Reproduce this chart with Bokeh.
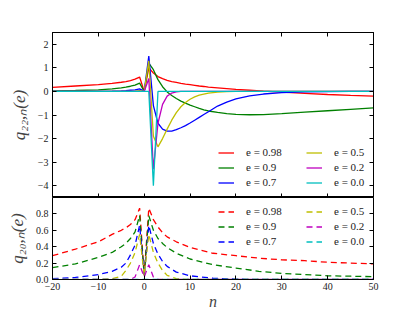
from bokeh.plotting import figure
from bokeh.layouts import column
from bokeh.models import LinearAxis, FixedTicker, Legend, LegendItem, Range1d
from bokeh.embed import file_html
from bokeh.resources import INLINE

# ---------------- data ----------------
labels = ["e = 0.98", "e = 0.9", "e = 0.7", "e = 0.5", "e = 0.2", "e = 0.0"]
colors = ["#FF0000", "#008000", "#0000FF", "#BFBF00", "#BF00BF", "#00BFBF"]

# top panel: q_{22,n}(e)
n_top = [-20, -15, -10, -7, -5, -4, -3, -2, -1, 0, 1, 2, 3, 4, 5, 6, 7, 8, 9, 10,
         11, 12, 13, 14, 16, 18, 20, 23, 26, 30, 35, 40, 45, 50]
q22_098 = [0.17, 0.23, 0.29, 0.34, 0.39, 0.42, 0.46, 0.52, 0.61, 0.0, 1.00, 0.78, 0.63, 0.54,
           0.47, 0.42, 0.38, 0.34, 0.31, 0.29, 0.26, 0.23, 0.21, 0.18, 0.15, 0.12, 0.09, 0.05,
           0.01, -0.03, -0.08, -0.13, -0.17, -0.20]
q22_090 = [0.02, 0.04, 0.07, 0.11, 0.15, 0.18, 0.22, 0.27, 0.35, 0.0, 1.20, 0.92, 0.50, 0.20,
           -0.02, -0.17, -0.30, -0.41, -0.50, -0.58, -0.65, -0.72, -0.78, -0.83, -0.89, -0.94,
           -0.97, -0.99, -0.98, -0.94, -0.88, -0.82, -0.76, -0.70]
q22_070 = [0.0, 0.0, 0.005, 0.01, 0.02, 0.03, 0.05, 0.07, 0.11, 0.0, 1.50, -0.60, -1.35, -1.60,
           -1.68, -1.68, -1.62, -1.54, -1.45, -1.34, -1.22, -1.10, -0.98, -0.86, -0.62, -0.45,
           -0.32, -0.19, -0.11, -0.05, -0.02, -0.01, 0.0, 0.0]
q22_050 = [0.0, 0.0, 0.0, 0.0, 0.0, 0.0, 0.005, 0.01, 0.03, 0.0, 1.30, -1.90, -2.35, -2.00,
           -1.60, -1.22, -0.90, -0.65, -0.47, -0.33, -0.23, -0.16, -0.11, -0.07, -0.03, -0.01,
           0.0, 0.0, 0.0, 0.0, 0.0, 0.0, 0.0, 0.0]
q22_020 = [0.0, 0.0, 0.0, 0.0, 0.0, 0.0, 0.0, 0.0, 0.0, 0.0, 0.55, -3.30, -1.35, -0.55,
           -0.20, -0.07, -0.02, 0.0, 0.0, 0.0, 0.0, 0.0, 0.0, 0.0, 0.0, 0.0,
           0.0, 0.0, 0.0, 0.0, 0.0, 0.0, 0.0, 0.0]
q22_000 = [0.0, 0.0, 0.0, 0.0, 0.0, 0.0, 0.0, 0.0, 0.0, 0.0, 0.0, -4.00, 0.0, 0.0,
           0.0, 0.0, 0.0, 0.0, 0.0, 0.0, 0.0, 0.0, 0.0, 0.0, 0.0, 0.0,
           0.0, 0.0, 0.0, 0.0, 0.0, 0.0, 0.0, 0.0]

# bottom panel: q_{20,n}(e)
n_bot = [-20, -15, -10, -7, -5, -4, -3, -2, -1, 0, 1, 2, 3, 4, 5, 7, 10, 15, 20, 25,
         30, 35, 40, 45, 50]
q20_098 = [0.29, 0.37, 0.46, 0.55, 0.60, 0.63, 0.67, 0.73, 0.87, 0.05, 0.87, 0.73, 0.64, 0.57,
           0.52, 0.46, 0.39, 0.32, 0.29, 0.26, 0.24, 0.23, 0.21, 0.20, 0.19]
q20_090 = [0.145, 0.19, 0.27, 0.33, 0.40, 0.44, 0.50, 0.58, 0.78, 0.05, 0.78, 0.60, 0.50, 0.44,
           0.39, 0.32, 0.25, 0.18, 0.14, 0.10, 0.075, 0.06, 0.045, 0.04, 0.035]
q20_070 = [0.01, 0.025, 0.06, 0.10, 0.15, 0.20, 0.30, 0.42, 0.66, 0.05, 0.66, 0.44, 0.31, 0.22,
           0.16, 0.09, 0.045, 0.015, 0.005, 0.0, 0.0, 0.0, 0.0, 0.0, 0.0]
q20_050 = [0.0, 0.0, 0.0, 0.01, 0.04, 0.11, 0.20, 0.33, 0.55, 0.05, 0.55, 0.33, 0.20, 0.11,
           0.05, 0.01, 0.0, 0.0, 0.0, 0.0, 0.0, 0.0, 0.0, 0.0, 0.0]
q20_020 = [0.0, 0.0, 0.0, 0.0, 0.0, 0.0, 0.0, 0.03, 0.18, 0.03, 0.18, 0.03, 0.0, 0.0,
           0.0, 0.0, 0.0, 0.0, 0.0, 0.0, 0.0, 0.0, 0.0, 0.0, 0.0]
q20_000 = [0.0] * 25

x_ticks = [-20, -10, 0, 10, 20, 30, 40, 50]
y_ticks_top = [-4, -3, -2, -1, 0, 1, 2]
y_ticks_bot = [0.0, 0.2, 0.4, 0.6, 0.8]

top_series = [q22_098, q22_090, q22_070, q22_050, q22_020, q22_000]
bot_series = [q20_098, q20_090, q20_070, q20_050, q20_020, q20_000]

# ---------------- styling ----------------
SERIF = "Liberation Serif"
FRAME_W = 321
LEFT = 52
RIGHT = 30


def fmt(v):
    s = ("%g" % v) if isinstance(v, int) else ("%.1f" % v)
    return s.replace("-", "\u2212")


def make_axis(ticks, show_labels):
    ax = LinearAxis(ticker=FixedTicker(ticks=ticks), minor_tick_line_color=None,
                    major_tick_in=4, major_tick_out=0, major_tick_line_color="black",
                    axis_line_color="black")
    if show_labels:
        ax.major_label_overrides = {t: fmt(t) for t in ticks}
        ax.major_label_text_font = SERIF
        ax.major_label_text_font_size = "10px"
        ax.major_label_text_color = "#222222"
        ax.major_label_standoff = 4
    else:
        ax.major_label_text_color = None
        ax.major_label_text_font_size = "0px"
        ax.major_label_standoff = 0
    return ax


def style(p):
    p.grid.visible = False
    p.outline_line_color = "black"
    p.outline_line_width = 1
    p.background_fill_color = "white"
    p.border_fill_color = "white"


# ---------------- top figure ----------------
p1 = figure(frame_width=FRAME_W, frame_height=165,
            x_range=Range1d(-20, 50), y_range=Range1d(-4.5, 2.5),
            x_axis_location=None, y_axis_location=None,
            min_border_left=LEFT, min_border_right=RIGHT, min_border_top=32,
            min_border_bottom=0, output_backend="svg", toolbar_location=None)
style(p1)
yl = make_axis(y_ticks_top, True)
yl.axis_label = "q\u2082\u2082,\u2099(e)"
yl.axis_label_text_font = SERIF
yl.axis_label_text_font_style = "italic"
yl.axis_label_text_font_size = "17px"
yl.axis_label_standoff = 6
p1.add_layout(yl, "left")
p1.add_layout(make_axis(y_ticks_top, False), "right")
p1.add_layout(make_axis(x_ticks, False), "above")
p1.add_layout(make_axis(x_ticks, False), "below")

items1 = []
for lab, col, ys in zip(labels, colors, top_series):
    r = p1.line(n_top, ys, line_color=col, line_width=1.3)
    items1.append(LegendItem(label=lab, renderers=[r]))

# ---------------- bottom figure ----------------
p2 = figure(frame_width=FRAME_W, frame_height=82,
            x_range=Range1d(-20, 50), y_range=Range1d(0, 1.0),
            x_axis_location=None, y_axis_location=None,
            min_border_left=LEFT, min_border_right=RIGHT, min_border_top=0,
            min_border_bottom=0, output_backend="svg", toolbar_location=None)
style(p2)
yl2 = make_axis(y_ticks_bot, True)
yl2.axis_label = "q\u2082\u2080,\u2099(e)"
yl2.axis_label_text_font = SERIF
yl2.axis_label_text_font_style = "italic"
yl2.axis_label_text_font_size = "17px"
yl2.axis_label_standoff = 6
p2.add_layout(yl2, "left")
p2.add_layout(make_axis(y_ticks_bot, False), "right")
xb = make_axis(x_ticks, True)
xb.major_label_standoff = 3
xb.axis_label = "n"
xb.axis_label_text_font = SERIF
xb.axis_label_text_font_style = "italic"
xb.axis_label_text_font_size = "16px"
xb.axis_label_standoff = 0
p2.add_layout(xb, "below")

items2 = []
for lab, col, ys in zip(labels, colors, bot_series):
    r = p2.line(n_bot, ys, line_color=col, line_width=1.3, line_dash="6 4")
    items2.append(LegendItem(label=lab, renderers=[r]))


def make_legend(items, loc):
    return Legend(items=items, location=loc, orientation="vertical", nrows=3,
                  background_fill_alpha=0, border_line_alpha=0,
                  label_text_font=SERIF, label_text_font_size="11px",
                  label_text_color="#222222",
                  glyph_width=16, glyph_height=15, label_height=15, label_width=60,
                  label_standoff=12, spacing=0, padding=0, margin=0)


p1.add_layout(make_legend(items1, (166, 7.5)), "center")
p2.add_layout(make_legend(items2, (166, 30.5)), "center")

layout = column(p1, p2, spacing=0)
open("out.html", "w").write(file_html(layout, INLINE))
